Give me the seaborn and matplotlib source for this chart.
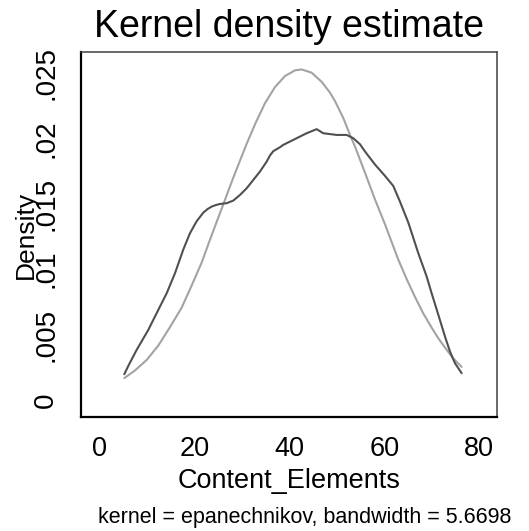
import matplotlib
matplotlib.use("Agg")
import matplotlib.pyplot as plt
import seaborn as sns
import pandas as pd

# Kernel density estimate of Content_Elements (epanechnikov kernel)
kde_x = [5.19, 6.04, 7.79, 10.25, 12.01, 14.12, 15.87, 17.63, 19.03, 20.44,
         21.85, 22.70, 23.60, 24.50, 25.36, 26.76, 28.17, 29.57, 30.98, 32.39,
         33.79, 35.20, 35.92, 36.60, 38.01, 38.70, 41.53, 43.63, 45.74, 47.13,
         49.96, 52.07, 53.46, 54.87, 55.92, 58.03, 60.14, 61.89, 63.30, 65.06,
         67.17, 68.93, 69.98, 71.39, 72.79, 73.84, 74.90, 76.30]
kde_y = [0.00196, 0.00260, 0.00382, 0.00535, 0.00663, 0.00815, 0.00968, 0.01150,
         0.01274, 0.01366, 0.01432, 0.01458, 0.01478, 0.01490, 0.01498, 0.01504,
         0.01524, 0.01567, 0.01618, 0.01682, 0.01746, 0.01822, 0.01870, 0.01902,
         0.01932, 0.01950, 0.02001, 0.02039, 0.02070, 0.02039, 0.02026, 0.02026,
         0.02001, 0.01955, 0.01900, 0.01800, 0.01713, 0.01636, 0.01516, 0.01356,
         0.01121, 0.00943, 0.00815, 0.00650, 0.00484, 0.00370, 0.00280, 0.00204]

# Normal density overlay
norm_x = [5.19, 7.44, 9.90, 12.36, 14.80, 17.28, 19.40, 21.50, 23.00, 24.65,
          26.06, 28.17, 30.98, 32.90, 34.84, 36.95, 39.06, 41.17, 42.58, 44.69,
          46.80, 48.54, 49.60, 51.36, 52.77, 53.82, 55.92, 58.03, 60.14, 62.95,
          64.70, 66.47, 68.20, 69.98, 71.40, 72.79, 74.50, 76.30]
norm_y = [0.00166, 0.00225, 0.00305, 0.00415, 0.00555, 0.00705, 0.00875, 0.01050,
          0.01200, 0.01360, 0.01495, 0.01700, 0.01958, 0.02120, 0.02268, 0.02392,
          0.02476, 0.02520, 0.02527, 0.02502, 0.02432, 0.02350, 0.02285, 0.02155,
          0.02026, 0.01937, 0.01738, 0.01533, 0.01343, 0.01072, 0.00925, 0.00787,
          0.00662, 0.00552, 0.00470, 0.00400, 0.00318, 0.00252]

x_ticks = [0, 20, 40, 60, 80]
y_ticks = [0, 0.005, 0.01, 0.015, 0.02, 0.025]
y_tick_labels = ["0", ".005", ".01", ".015", ".02", ".025"]

title_text = "Kernel density estimate"
x_label = "Content_Elements"
y_label = "Density"
note_text = "kernel = epanechnikov, bandwidth = 5.6698"

sns.set_style("white")
plt.rcParams["font.family"] = ["Liberation Sans", "DejaVu Sans"]
plt.rcParams["text.color"] = "black"
plt.rcParams["axes.labelcolor"] = "black"
plt.rcParams["lines.solid_joinstyle"] = "round"

fig = plt.figure(figsize=(5.29, 5.31), dpi=100)
ax = fig.add_axes([0.154, 0.214, 0.785, 0.688])

kde_df = pd.DataFrame({"x": kde_x, "y": kde_y})
norm_df = pd.DataFrame({"x": norm_x, "y": norm_y})

sns.lineplot(data=norm_df, x="x", y="y", ax=ax, color="#a3a3a3",
             linewidth=1.5, estimator=None, sort=False)
sns.lineplot(data=kde_df, x="x", y="y", ax=ax, color="#505050",
             linewidth=1.5, estimator=None, sort=False)

ax.set_xlim(-3.84, 83.7)
ax.set_ylim(-0.00134, 0.0266)

ax.set_xticks(x_ticks)
ax.set_xticklabels([str(v) for v in x_ticks], fontsize=19.5)
ax.set_yticks(y_ticks)
ax.set_yticklabels(y_tick_labels, fontsize=20, rotation=90, va="center")

ax.tick_params(axis="both", direction="out", length=9, width=1.1,
               color="#222222", labelcolor="black")
ax.tick_params(axis="x", pad=4.5)
ax.tick_params(axis="y", pad=7)

for side in ("left", "bottom"):
    ax.spines[side].set_color("black")
    ax.spines[side].set_linewidth(1.6)
for side in ("top", "right"):
    ax.spines[side].set_color("#404040")
    ax.spines[side].set_linewidth(1.1)

ax.set_xlabel(x_label, fontsize=19.5, labelpad=4)
ax.set_ylabel(y_label, fontsize=19)
ax.yaxis.set_label_coords(-0.106, 0.5)

fig.text(289 / 529, 1 - 37 / 531, title_text, fontsize=27, ha="center",
         va="baseline", color="black")
fig.text(305 / 529, 1 - 523 / 531, note_text, fontsize=15.5, ha="center",
         va="baseline", color="black")

fig.savefig("out.png", dpi=100)
